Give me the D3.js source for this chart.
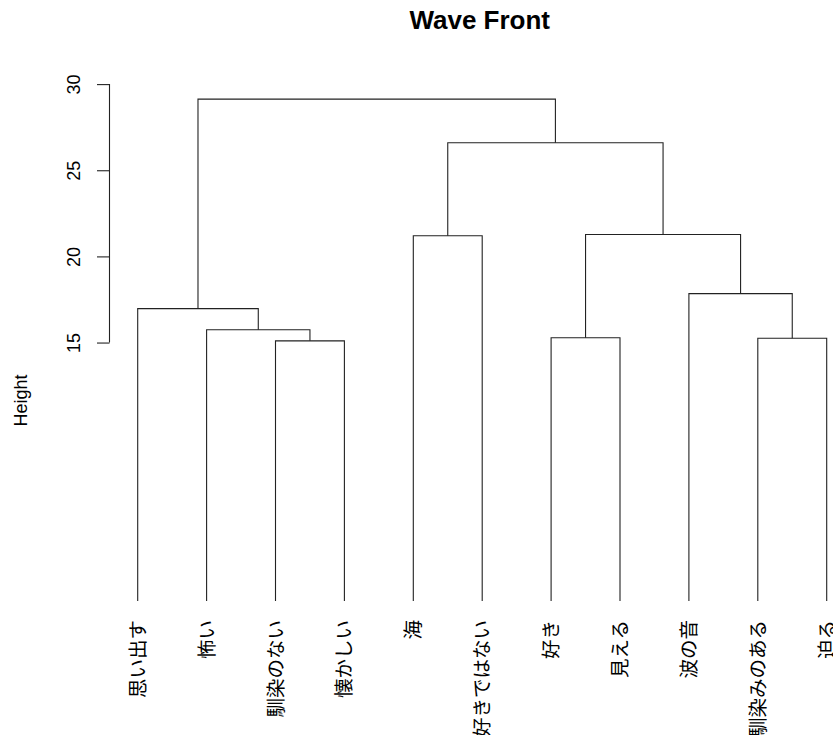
<!DOCTYPE html>
<html>
<head>
<meta charset="utf-8">
<script src="https://cdn.jsdelivr.net/npm/d3@7"></script>
<style>
  html, body { margin: 0; padding: 0; background: #fff; }
  svg { display: block; }
</style>
</head>
<body>
<svg id="chart" width="833" height="735"></svg>
<script>
// Leaf labels in dendrogram order (left to right)
const labels = ["思い出す", "怖い", "馴染のない", "懐かしい", "海", "好きではない",
                "好き", "見える", "波の音", "馴染みのある", "迫る"];

// Merge steps, hclust style: negative = leaf (1-based position in labels),
// positive = result of an earlier merge step (1-based)
const mergeLeft  = [-3, -10, -7, -2, -1, -9, -5, 3, 7, 5];
const mergeRight = [-4, -11, -8,  1,  4,  2, -6, 6, 8, 9];
const mergeHeight = [15.10, 15.25, 15.28, 15.74, 16.97, 17.84, 21.20, 21.27, 26.60, 29.13];

const yTicks = [15, 20, 25, 30];
const titleText = "Wave Front";
const yTitle = "Height";

const svg = d3.select("#chart");

const x = d3.scaleLinear().domain([1, labels.length]).range([137.7, 826.7]);
const y = d3.scaleLinear().domain([0, 30]).range([601, 84.1]);

// Build node records from the merge table
function nodeOf(ref) {
  if (ref < 0) return { x: x(-ref), h: 0, leaf: true };
  return nodes[ref - 1];
}
const nodes = [];
mergeLeft.forEach((l, i) => {
  const a = nodeOf(l), b = nodeOf(mergeRight[i]);
  nodes.push({ x: (a.x + b.x) / 2, h: mergeHeight[i], left: a, right: b });
});

// Draw each merge as a bracket: two verticals joined by a horizontal bar
const lineColor = "#222";
const g = svg.append("g")
  .attr("fill", "none")
  .attr("stroke", lineColor)
  .attr("stroke-width", 1.1);

nodes.forEach(n => {
  const path = d3.path();
  path.moveTo(n.left.x, y(n.left.h));
  path.lineTo(n.left.x, y(n.h));
  path.lineTo(n.right.x, y(n.h));
  path.lineTo(n.right.x, y(n.right.h));
  g.append("path").attr("d", path.toString());
});

// Leaf labels, rotated to read bottom to top
svg.append("g")
  .selectAll("text")
  .data(labels)
  .join("text")
  .attr("transform", (d, i) => `translate(${x(i + 1) - 1.5},620) rotate(-90)`)
  .attr("text-anchor", "end")
  .attr("dominant-baseline", "central")
  .attr("font-family", "'Noto Sans CJK JP', sans-serif")
  .attr("font-size", 19.5)
  .attr("fill", "#000")
  .text(d => d);

// Y axis
const axisX = 109.5;
const axis = d3.axisLeft(y).tickValues(yTicks).tickSize(12.5).tickFormat(d3.format("d"));
const ag = svg.append("g").attr("transform", `translate(${axisX},0)`).call(axis);
ag.select(".domain").remove();
ag.append("line")
  .attr("x1", 0).attr("x2", 0)
  .attr("y1", y(d3.min(yTicks))).attr("y2", y(d3.max(yTicks)))
  .attr("stroke", lineColor).attr("stroke-width", 1.1);
ag.selectAll(".tick line").attr("stroke", lineColor).attr("stroke-width", 1.1);
ag.selectAll(".tick text")
  .attr("x", null).attr("dy", null)
  .attr("transform", "translate(-30,0) rotate(-90)")
  .attr("text-anchor", "middle")
  .attr("font-family", "'Liberation Sans', Arial, sans-serif")
  .attr("font-size", 18)
  .attr("fill", "#000");

// Axis title
svg.append("text")
  .attr("transform", "translate(26.5,400.5) rotate(-90)")
  .attr("text-anchor", "middle")
  .attr("font-family", "'Liberation Sans', Arial, sans-serif")
  .attr("font-size", 18)
  .attr("fill", "#000")
  .text(yTitle);

// Main title
svg.append("text")
  .attr("x", 479.7)
  .attr("y", 29)
  .attr("text-anchor", "middle")
  .attr("font-family", "'Liberation Sans', Arial, sans-serif")
  .attr("font-weight", "bold")
  .attr("font-size", 26)
  .attr("fill", "#000")
  .text(titleText);
</script>
</body>
</html>
